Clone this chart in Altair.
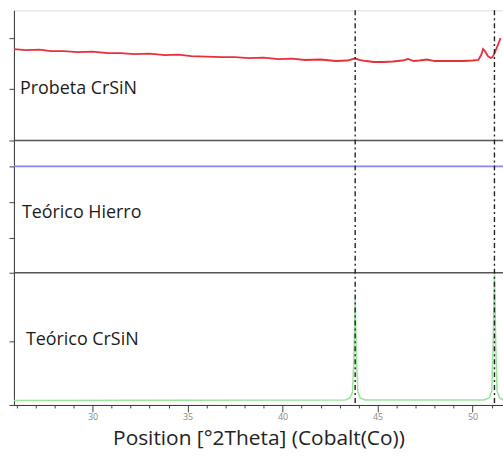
import altair as alt
import pandas as pd

# Red: Probeta CrSiN (measured)
red_x = [25.86, 26.5, 27.2, 27.8, 28.5, 29.2, 30.0, 30.8, 31.5, 32.2, 33.0, 33.8, 34.5, 35.2,
         36.0, 36.8, 37.5, 38.2, 39.0, 39.8, 40.5, 41.2, 42.0, 42.8, 43.4, 43.8, 44.1, 44.4,
         44.8, 45.3, 45.8, 46.3, 46.6, 46.9, 47.2, 47.6, 48.0, 48.5, 49.0, 49.5, 50.0, 50.3,
         50.45, 50.55, 50.65, 50.8, 50.95, 51.05, 51.2, 51.35, 51.47]
red_y = [358, 357, 357.5, 356, 356, 355, 355.5, 354, 354, 353, 353.5, 352, 352.5, 351,
         350.5, 350, 350, 349, 349.5, 348, 348.5, 347, 347.5, 346, 346.5, 348.5, 347, 346,
         345, 345, 345.5, 346.5, 348, 346, 346.5, 347.5, 346, 346, 346, 346, 346.5, 347,
         352, 358, 356, 351, 349, 350, 356, 363, 369]

# Blue: Teórico Hierro (flat)
blue_x = [25.86, 51.6]
blue_y = [240, 240]

# Green: Teórico CrSiN
green_x = [25.86, 43.3, 43.55, 43.68, 43.75, 43.82, 43.89, 43.96, 44.09, 44.35,
           50.6, 50.88, 51.01, 51.08, 51.15, 51.22, 51.29, 51.42, 51.6]
green_y = [4.5, 5, 7, 13, 45, 106, 45, 13, 7, 5,
           5, 7, 14, 60, 131, 60, 14, 7, 5]

separators_y = [266, 133]
dashed_x = [43.82, 51.15]

labels_text = ["Probeta CrSiN", "Teórico Hierro", "Teórico CrSiN"]
labels_x = [26.18, 26.28, 26.49]
labels_y = [318, 193, 65]

y_ticks = [0, 64, 133, 168, 204, 240, 266, 318, 369]
x_ticks = list(range(26, 52))

XDOM = [25.86, 51.6]
YDOM = [0, 397]

xaxis = alt.Axis(
    values=x_ticks,
    labelExpr="datum.value % 5 === 0 ? datum.label : ''",
    tickSize={"condition": {"test": "datum.value % 5 === 0", "value": 7}, "value": 3},
    tickColor="#444",
    domainColor="#333",
    labelColor="#888",
    labelFontSize=9,
    labelFont="Open Sans",
    labelPadding=1,
    title="Position [°2Theta] (Cobalt(Co))",
    titleFont="Open Sans",
    titleFontSize=21,
    titleFontWeight="normal",
    titleColor="#222",
    titlePadding=6,
    grid=False,
)
yaxis = alt.Axis(values=y_ticks, labels=False, title=None, tickSize=5, tickColor="#444",
                 domainColor="#333", grid=False)


def X(field="x"):
    return alt.X(f"{field}:Q", scale=alt.Scale(domain=XDOM, nice=False, zero=False), axis=xaxis)


def Y(field="y"):
    return alt.Y(f"{field}:Q", scale=alt.Scale(domain=YDOM, nice=False, zero=False), axis=yaxis)


red = alt.Chart(pd.DataFrame({"x": red_x, "y": red_y})).mark_line(
    color="#e8303a", strokeWidth=1.8, clip=True).encode(x=X(), y=Y())
blue = alt.Chart(pd.DataFrame({"x": blue_x, "y": blue_y})).mark_line(
    color="#8c84f0", strokeWidth=1.8, clip=True).encode(x=X(), y=Y())
green = alt.Chart(pd.DataFrame({"x": green_x, "y": green_y})).mark_line(
    color="#9ae49a", strokeWidth=1.5, clip=True).encode(x=X(), y=Y())

seps = alt.Chart(pd.DataFrame({"y": separators_y})).mark_rule(
    color="#555", strokeWidth=1.6).encode(y=Y())
dashes = alt.Chart(pd.DataFrame({"x": dashed_x})).mark_rule(
    color="#222", strokeWidth=1.4, strokeDash=[5, 3, 2, 3]).encode(x=X())

texts = alt.Chart(pd.DataFrame({"x": labels_x, "y": labels_y, "t": labels_text})).mark_text(
    align="left", baseline="middle", font="Open Sans", fontSize=18, color="#1a1a1a"
).encode(x=X(), y=Y(), text="t:N")

chart = alt.layer(green, blue, seps, red, dashes, texts).properties(
    width=492, height=397,
    autosize=alt.AutoSizeParams(type="none"),
    padding={"left": 14, "top": 9, "right": 0, "bottom": 54},
).configure_view(stroke="#555", strokeWidth=1.5).configure(background="white")

chart.save("out.html", embed_options={"renderer": "svg", "actions": False})
